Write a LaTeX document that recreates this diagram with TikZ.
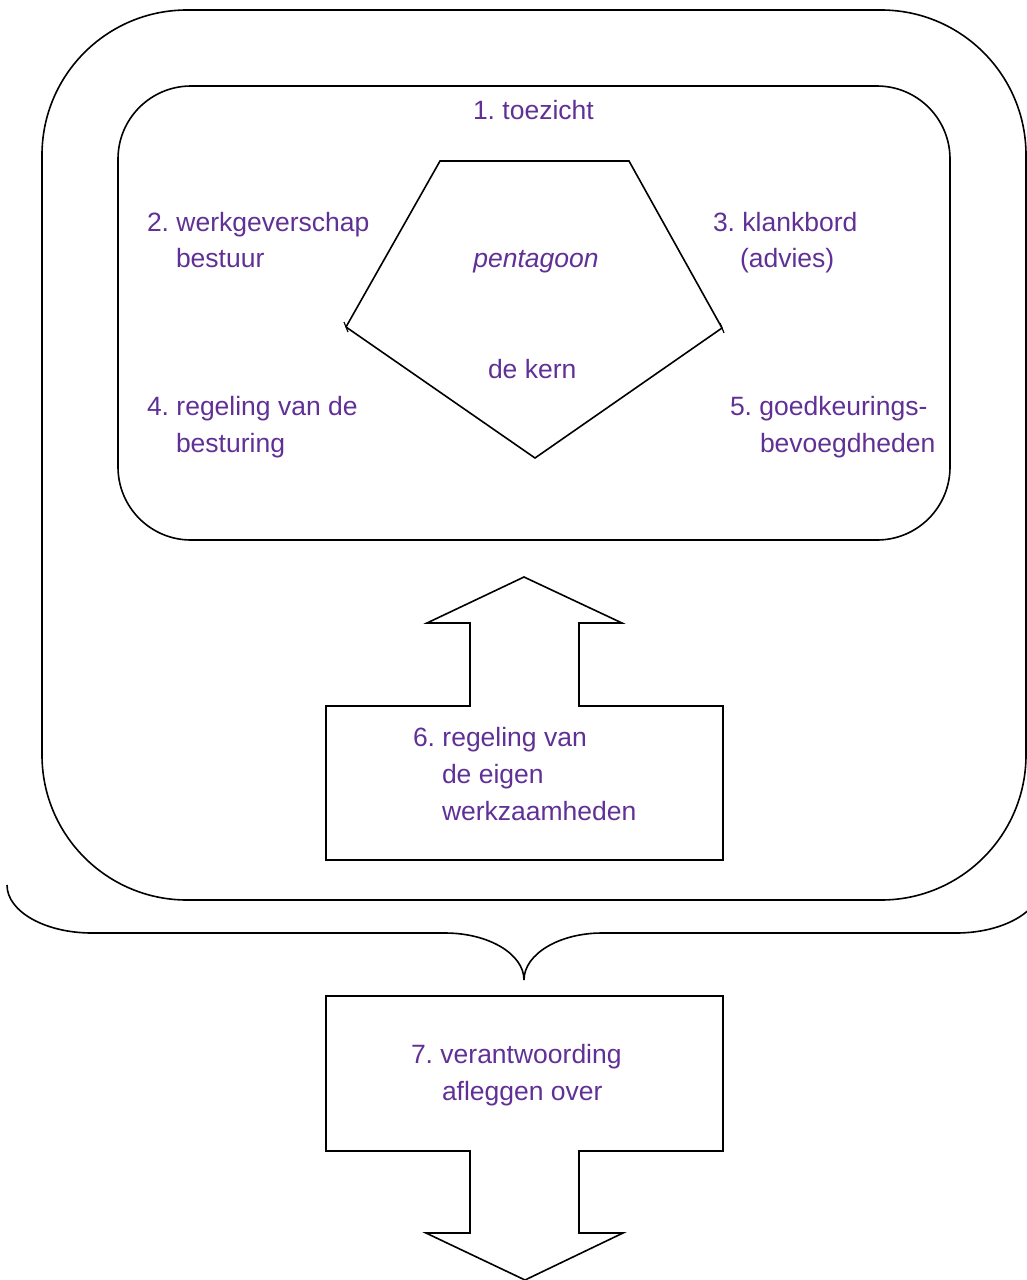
\documentclass[tikz,border=0pt]{standalone}
\usepackage{fontspec}
\setmainfont{Liberation Sans}
\frenchspacing
\definecolor{txtpurple}{RGB}{96,48,150}
\begin{document}
\begin{tikzpicture}[x=0.5pt,y=-0.5pt,
  line/.style={draw=black,line width=0.8pt,line join=miter},
  lbl/.style={anchor=base west,inner sep=0pt,outer sep=0pt,text=txtpurple,font=\fontsize{13.25pt}{18.3pt}\selectfont}]
\useasboundingbox (0,0) rectangle (1027,1280);
% outer and inner rounded frames
\draw[line,rounded corners=72.5pt] (42,10) rectangle (1026,900);
\draw[line,rounded corners=36.5pt] (118,86) rectangle (950,540);
% pentagon
\coordinate (pA) at (440,161);
\coordinate (pB) at (629,161);
\coordinate (pC) at (722,328);
\coordinate (pD) at (535,458);
\coordinate (pE) at (346,327);
\draw[line] (pE) -- (pA) -- (pB) -- (pC);
\draw[line] (pC) -- (pD) -- (pE);
\draw[line,line width=0.6pt] (344,322) -- (348,332);
\draw[line,line width=0.6pt] (720,323) -- (724,333);
% up arrow with box 6
\draw[line] (326,706) -- (470,706) -- (470,623) -- (427,623) -- (524,577) -- (622,623) -- (579,623) -- (579,706) -- (723,706) -- (723,860) -- (326,860) -- cycle;
% brace
\draw[line] (7,885) .. controls (7,911.5) and (45,933) .. (92,933) -- (445,933)
  .. controls (488.6,933) and (524,954) .. (524,980)
  .. controls (524,954) and (559.4,933) .. (602,933) -- (956,933)
  .. controls (1003,933) and (1041,911.5) .. (1041,885);
% down arrow with box 7
\draw[line] (326,996) -- (723,996) -- (723,1151) -- (579,1151) -- (579,1233) -- (623,1233) -- (525,1280) -- (426,1233) -- (470,1233) -- (470,1151) -- (326,1151) -- cycle;
% labels
\node[lbl] (t1) at (473,119) {1. toezicht};
\node[lbl] (t2a) at (147,231) {2. werkgeverschap};
\node[lbl] (t2b) at (176,267) {bestuur};
\node[lbl] (t3a) at (713,231) {3. klankbord};
\node[lbl] (t3b) at (740,267) {(advies)};
\node[lbl,anchor=base] (tp) at (536,267) {\itshape pentagoon};
\node[lbl] (tk) at (488,378) {de kern};
\node[lbl] (t4a) at (147,415) {4. regeling van de};
\node[lbl] (t4b) at (176,452) {besturing};
\node[lbl] (t5a) at (730,415) {5. goedkeurings-};
\node[lbl] (t5b) at (760,452) {bevoegdheden};
\node[lbl] (t6a) at (413,746) {6. regeling van};
\node[lbl] (t6b) at (442,783) {de eigen};
\node[lbl] (t6c) at (442,820) {werkzaamheden};
\node[lbl] (t7a) at (411,1063) {7. verantwoording};
\node[lbl] (t7b) at (442,1100) {afleggen over};
\end{tikzpicture}
\end{document}
